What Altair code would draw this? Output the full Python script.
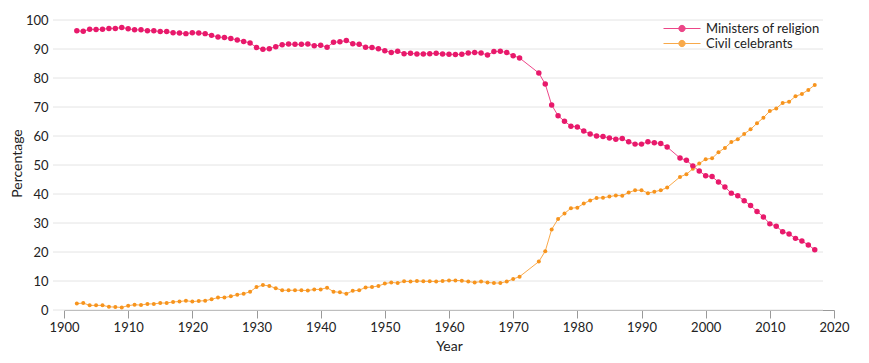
import altair as alt
import pandas as pd

years = list(range(1902, 1972)) + list(range(1974, 1995)) + list(range(1996, 2018))

ministers = [
    96.3, 96.1, 96.8, 96.7, 96.8, 97.1, 97.1, 97.4, 97.0, 96.6,  # 1902-1911
    96.6, 96.3, 96.3, 96.0, 96.0, 95.6, 95.5, 95.3, 95.6, 95.5,  # 1912-1921
    95.3, 94.7, 94.1, 94.0, 93.6, 93.1, 92.6, 92.1, 90.5, 89.9,  # 1922-1931
    90.1, 90.8, 91.5, 91.7, 91.6, 91.6, 91.7, 91.1, 91.3, 90.6,  # 1932-1941
    92.3, 92.5, 92.9, 91.8, 91.6, 90.6, 90.5, 90.1, 89.4, 88.8,  # 1942-1951
    89.2, 88.4, 88.5, 88.3, 88.3, 88.4, 88.5, 88.3, 88.2, 88.1,  # 1952-1961
    88.2, 88.6, 88.8, 88.6, 87.9, 89.1, 89.2, 88.8, 87.7, 86.9,  # 1962-1971
    81.7, 77.9, 70.7, 67.0, 65.1, 63.4, 63.1, 61.7, 60.7, 60.0,  # 1974-1983
    59.8, 59.3, 58.9, 59.1, 58.0, 57.2, 57.2, 58.0, 57.7, 57.4,  # 1984-1993
    56.2,                                                        # 1994
    52.4, 51.6, 49.7, 47.9, 46.3, 46.0, 44.1, 42.4, 40.3, 39.4,  # 1996-2005
    37.7, 36.0, 34.0, 32.1, 29.7, 28.9, 27.0, 26.2, 24.7, 23.8,  # 2006-2015
    22.4, 20.8,                                                  # 2016-2017
]

civil = [
    2.2, 2.4, 1.6, 1.6, 1.6, 1.1, 1.0, 0.9, 1.5, 1.8,            # 1902-1911
    1.7, 2.1, 2.1, 2.4, 2.4, 2.8, 2.9, 3.2, 2.9, 3.1,            # 1912-1921
    3.2, 3.7, 4.3, 4.3, 4.7, 5.3, 5.6, 6.3, 7.9, 8.6,            # 1922-1931
    8.3, 7.5, 6.8, 6.8, 6.8, 6.8, 6.7, 7.1, 7.1, 7.7,            # 1932-1941
    6.3, 6.1, 5.6, 6.6, 6.8, 7.8, 7.9, 8.3, 9.1, 9.5,            # 1942-1951
    9.3, 9.9, 9.8, 10.0, 9.9, 9.9, 9.8, 10.0, 10.2, 10.2,        # 1952-1961
    10.1, 9.8, 9.5, 9.8, 9.5, 9.3, 9.3, 9.8, 10.7, 11.5,         # 1962-1971
    16.7, 20.3, 27.8, 31.4, 33.3, 35.1, 35.3, 36.7, 37.8, 38.6,  # 1974-1983
    38.7, 39.1, 39.5, 39.4, 40.5, 41.3, 41.3, 40.3, 40.8, 41.3,  # 1984-1993
    42.2,                                                        # 1994
    45.9, 46.8, 48.7, 50.5, 52.0, 52.3, 54.4, 55.9, 57.9, 58.9,  # 1996-2005
    60.7, 62.3, 64.4, 66.3, 68.6, 69.5, 71.4, 71.8, 73.7, 74.5,  # 2006-2015
    75.9, 77.6,                                                  # 2016-2017
]

series_names = ["Ministers of religion", "Civil celebrants"]
series_colors = ["#e8196b", "#f7941d"]
x_ticks = list(range(1900, 2021, 10))
y_ticks = list(range(0, 101, 10))

rows = []
for yr, m, c in zip(years, ministers, civil):
    rows.append({"Year": yr, "Series": series_names[0], "Value": m})
    rows.append({"Year": yr, "Series": series_names[1], "Value": c})
df = pd.DataFrame(rows)
grid_df = pd.DataFrame({"Value": y_ticks})

W, H = 770, 290
FONT = "Lato"
TXT = "#222222"

x_scale = alt.Scale(domain=[1900, 2020], nice=False, zero=False, padding=0)
y_scale = alt.Scale(domain=[0, 100], nice=False, padding=0)
color_scale = alt.Scale(domain=series_names, range=series_colors)

x_axis = alt.Axis(values=x_ticks, format="d", title="Year", tickSize=8,
                  tickColor="#999999", domainColor="#999999", grid=False,
                  labelFlush=False, labelOverlap=False,
                  labelFontSize=13, titleFontSize=14, labelPadding=3,
                  titlePadding=5, labelColor=TXT, titleColor=TXT,
                  titleFontWeight="normal", labelFont=FONT, titleFont=FONT)
y_axis = alt.Axis(values=y_ticks, title="Percentage", ticks=False, domain=False,
                  grid=False, labelPadding=16, labelFontSize=13, titleFontSize=14,
                  titleX=-40, titleY=143, labelColor=TXT, titleColor=TXT,
                  titleFontWeight="normal", labelFont=FONT, titleFont=FONT)

SYMBOL = "M-1,0L1,0M-0.17,0A0.17,0.17,0,1,1,0.17,0A0.17,0.17,0,1,1,-0.17,0Z"
legend = alt.Legend(title=None, orient="none", legendX=599, legendY=1,
                    symbolType=SYMBOL, symbolSize=1369, symbolStrokeWidth=1,
                    labelFontSize=13, labelColor=TXT, labelFont=FONT,
                    clipHeight=15, rowPadding=0, labelOffset=5)

grid = alt.Chart(grid_df).mark_rule(color="#e4e4e4", strokeWidth=1).encode(
    y=alt.Y("Value:Q", scale=y_scale, axis=y_axis),
    x=alt.value(-11),
    x2=alt.value(W - 11),
)

base = alt.Chart(df).encode(
    x=alt.X("Year:Q", scale=x_scale, axis=x_axis),
    y=alt.Y("Value:Q", scale=y_scale, axis=y_axis),
    color=alt.Color("Series:N", scale=color_scale, sort=series_names, legend=legend),
)

lines = base.mark_line(strokeWidth=1, opacity=0.8)
pts_m = base.transform_filter(alt.datum.Series == series_names[0]).mark_point(
    filled=True, opacity=1, size=30)
pts_c = base.transform_filter(alt.datum.Series == series_names[1]).mark_point(
    filled=True, opacity=1, size=16)

chart = alt.layer(grid, lines, pts_c, pts_m).properties(
    width=W, height=H,
    autosize=alt.AutoSizeParams(type="none"),
    padding={"left": 56, "top": 12, "right": 22, "bottom": 48},
    background="white",
).configure_view(stroke=None)

chart.save("out.html", embed_options={"renderer": "svg", "actions": False})
